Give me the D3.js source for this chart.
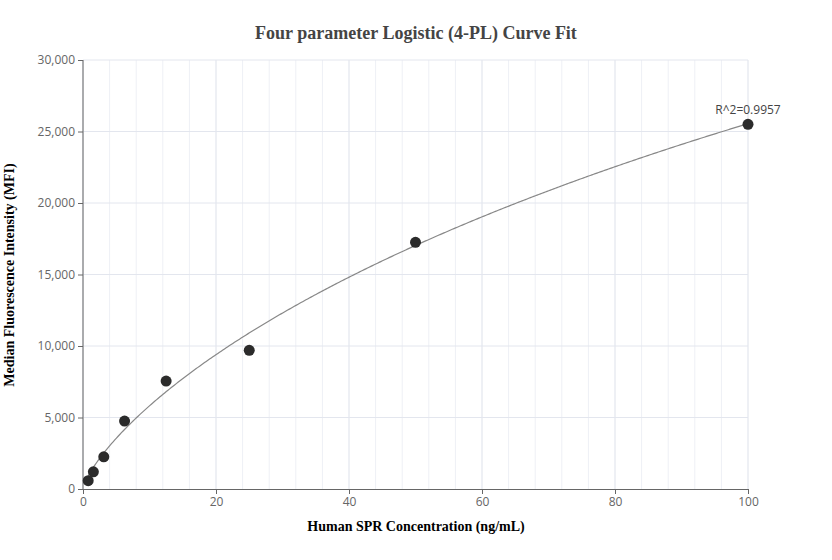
<!DOCTYPE html>
<html><head><meta charset="utf-8">
<script src="https://cdn.jsdelivr.net/npm/d3@7"></script>
<style>body{margin:0;background:#fff}</style></head>
<body><svg id="c" width="832" height="560"></svg>
<script>
const concentrations=[0.78,1.56,3.125,6.25,12.5,25,50,100];
const mfi=[580,1200,2250,4750,7550,9700,17250,25500];
const fitParams={a:0,b:0.75,c:386,d:95900};
const xTicks=[0,20,40,60,80,100];
const yTicks=[0,5000,10000,15000,20000,25000,30000];
const r2Label="R^2=0.9957";

const svg=d3.select("#c");
const L=83,R=748,T=60,B=489;
const x=d3.scaleLinear().domain([0,100]).range([L,R]);
const y=d3.scaleLinear().domain([0,30000]).range([B,T]);
const g=svg.append("g");
d3.range(0,101,4).forEach(v=>{g.append("line").attr("x1",x(v)).attr("x2",x(v)).attr("y1",T).attr("y2",B)
 .attr("stroke",v%20===0?"#dde1ea":"#eef0f5").attr("stroke-width",1);});
yTicks.forEach(v=>{if(v>0)g.append("line").attr("x1",L).attr("x2",R).attr("y1",y(v)).attr("y2",y(v)).attr("stroke","#e3e6ee");});
const xa=svg.append("g").attr("transform",`translate(0,${B})`).call(d3.axisBottom(x).tickValues(xTicks).tickSize(5).tickSizeOuter(0));
const ya=svg.append("g").attr("transform",`translate(${L},0)`).call(d3.axisLeft(y).tickValues(yTicks).tickFormat(d3.format(",")).tickSize(5).tickSizeOuter(0));
[xa,ya].forEach(a=>{a.selectAll("path,line").attr("stroke","#666");a.selectAll("text").attr("fill","#666").attr("font-family","Open Sans, sans-serif").attr("font-size",12);});
ya.selectAll("path").remove();
ya.append("line").attr("x1",0).attr("x2",0).attr("y1",T).attr("y2",B).attr("stroke","#666");

const f=t=>fitParams.d+(fitParams.a-fitParams.d)/(1+Math.pow(t/fitParams.c,fitParams.b));
const xs=d3.range(0.78,100.001,0.25).concat([100]);
svg.append("path").attr("d",d3.line().x(d=>x(d)).y(d=>y(f(d)))(xs)).attr("fill","none").attr("stroke","#888").attr("stroke-width",1.2);
svg.selectAll("circle.p").data(concentrations).enter().append("circle").attr("cx",d=>x(d)).attr("cy",(d,i)=>y(mfi[i])).attr("r",5.5).attr("fill","#2b2b2b");
svg.append("text").attr("x",x(100)).attr("y",y(25500)-10).attr("text-anchor","middle").attr("font-family","Open Sans, sans-serif").attr("font-size",12).attr("fill","#444").text(r2Label);

svg.append("text").attr("x",416).attr("y",39).attr("text-anchor","middle").attr("font-family","Liberation Serif, serif").attr("font-weight","bold").attr("font-size",18).attr("fill","#444").text("Four parameter Logistic (4-PL) Curve Fit");
svg.append("text").attr("x",416).attr("y",531).attr("text-anchor","middle").attr("font-family","Liberation Serif, serif").attr("font-weight","bold").attr("font-size",14).attr("fill","#000").text("Human SPR Concentration (ng/mL)");
svg.append("text").attr("transform","translate(14,275) rotate(-90)").attr("text-anchor","middle").attr("font-family","Liberation Serif, serif").attr("font-weight","bold").attr("font-size",14).attr("fill","#000").text("Median Fluorescence Intensity (MFI)");
</script></body></html>
